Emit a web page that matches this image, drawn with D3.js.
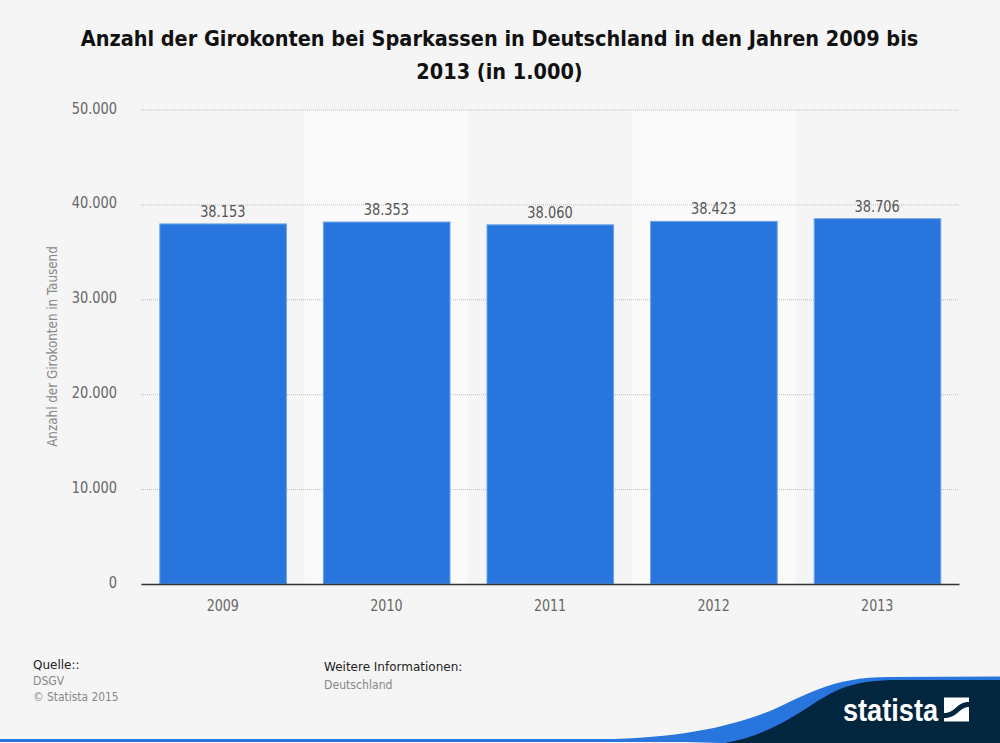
<!DOCTYPE html>
<html>
<head>
<meta charset="utf-8">
<script src="https://cdn.jsdelivr.net/npm/d3@7"></script>
<style>
  html, body { margin: 0; padding: 0; background: #f5f5f5; }
  svg { display: block; }
  text { font-family: "DejaVu Sans Condensed", "DejaVu Sans", sans-serif; }
</style>
</head>
<body>
<div id="chart"></div>
<script>
// Données
const annees = ["2009", "2010", "2011", "2012", "2013"];
const valeurs = [38153, 38353, 38060, 38423, 38706];
const graduations = [0, 10000, 20000, 30000, 40000, 50000];
const titre = ["Anzahl der Girokonten bei Sparkassen in Deutschland in den Jahren 2009 bis", "2013 (in 1.000)"];
const titreAxe = "Anzahl der Girokonten in Tausend";

const largeur = 1000;
const hauteur = 743;
const marge = {haut: 109.5, droite: 41, bas: 159, gauche: 141};

const svg = d3.select("#chart").append("svg")
    .attr("width", largeur)
    .attr("height", hauteur);

const fmt = d3.formatLocale({decimal: ",", thousands: ".", grouping: [3], currency: ["", "€"]}).format(",d");

// Resserre un texte déjà placé : le texte de la référence est étroit et haut
function resserrer(selection, k) {
    selection
        .attr("textLength", function() { return this.getComputedTextLength() * k; })
        .attr("lengthAdjust", "spacingAndGlyphs");
}

const x = d3.scaleBand()
    .domain(annees)
    .range([marge.gauche, largeur - marge.droite])
    .paddingInner(0.22)
    .paddingOuter(0.11);

const y = d3.scaleLinear()
    .domain([0, 50000])
    .range([hauteur - marge.bas, marge.haut]);

// Bandes claires une année sur deux
svg.append("g")
    .selectAll("rect")
    .data(annees.filter((d, i) => i % 2 == 1))
    .enter()
    .append("rect")
    .attr("x", d => x(d) - x.step() * 0.11)
    .attr("y", marge.haut)
    .attr("width", x.step())
    .attr("height", hauteur - marge.bas - marge.haut)
    .attr("fill", "#fafafa");

// Titre
svg.append("g")
    .selectAll("text")
    .data(titre)
    .enter()
    .append("text")
    .attr("x", 499.5)
    .attr("y", (d, i) => 46 + i * 33)
    .attr("text-anchor", "middle")
    .attr("font-size", 22)
    .attr("font-weight", "bold")
    .attr("fill", "#111")
    .text(d => d)
    .call(resserrer, 0.976);

// Axe vertical
const axeY = d3.axisLeft(y)
    .tickValues(graduations)
    .tickFormat(fmt)
    .tickSize(-(largeur - marge.gauche - marge.droite))
    .tickPadding(24);

const gY = svg.append("g")
    .attr("transform", `translate(${marge.gauche}, 0)`)
    .call(axeY);
gY.select(".domain").remove();
gY.selectAll(".tick line")
    .attr("stroke", "#bdbdbd")
    .attr("stroke-dasharray", "1,1");
gY.selectAll(".tick text")
    .attr("font-size", 16)
    .attr("dy", "0.22em")
    .attr("fill", "#666")
    .call(resserrer, 0.9);

// Barres
svg.append("g")
    .selectAll("rect")
    .data(valeurs)
    .enter()
    .append("rect")
    .attr("x", (d, i) => x(annees[i]) + 0.8)
    .attr("y", d => y(d) + 2)
    .attr("width", x.bandwidth() - 1)
    .attr("height", d => y(0) - y(d) - 2)
    .attr("fill", "#2876dd")
    .attr("stroke", "#6ea3e8")
    .attr("stroke-width", 1);

// Valeurs au-dessus des barres
svg.append("g")
    .selectAll("text")
    .data(valeurs)
    .enter()
    .append("text")
    .attr("x", (d, i) => x(annees[i]) + x.bandwidth() / 2)
    .attr("y", d => y(d) - 5)
    .attr("text-anchor", "middle")
    .attr("font-size", 16)
    .attr("fill", "#555")
    .text(d => fmt(d))
    .call(resserrer, 0.9);

// Axe horizontal
const axeX = d3.axisBottom(x).tickSize(0).tickPadding(16);
const gX = svg.append("g")
    .attr("transform", `translate(0, ${y(0)})`)
    .call(axeX);
gX.select(".domain")
    .attr("stroke", "#333")
    .attr("stroke-width", 1.5);
gX.selectAll(".tick text")
    .attr("font-size", 16)
    .attr("fill", "#666")
    .call(resserrer, 0.88);

// Titre de l'axe
svg.append("text")
    .attr("transform", "translate(57, 346.5) rotate(-90)")
    .attr("text-anchor", "middle")
    .attr("font-size", 14)
    .attr("fill", "#888")
    .text(titreAxe)
    .call(resserrer, 0.95);

// Pied de page
const pied = svg.append("g");
pied.append("text").attr("x", 33).attr("y", 669).attr("font-size", 12).attr("fill", "#222").style("font-family", "DejaVu Sans").text("Quelle::");
pied.append("text").attr("x", 33).attr("y", 685).attr("font-size", 12).attr("fill", "#888").style("font-family", "DejaVu Sans").text("DSGV").call(resserrer, 0.91);
pied.append("text").attr("x", 33).attr("y", 701).attr("font-size", 12).attr("fill", "#888").style("font-family", "DejaVu Sans").text("© Statista 2015").call(resserrer, 0.89);
pied.append("text").attr("x", 324).attr("y", 671).attr("font-size", 12).attr("fill", "#222").style("font-family", "DejaVu Sans").text("Weitere Informationen:");
pied.append("text").attr("x", 324).attr("y", 689).attr("font-size", 12).attr("fill", "#888").style("font-family", "DejaVu Sans").text("Deutschland").call(resserrer, 0.91);

// Bandeau statista
svg.append("rect").attr("x", 0).attr("y", 739).attr("width", 760).attr("height", 3).attr("fill", "#2876dd");
svg.append("path")
    .attr("d", "M600,739.5 C680,738 730,727 770,711 C805,696 830,677 890,677 L1000,676.5 L1000,743 L720,743 Z")
    .attr("fill", "#2876dd");
svg.append("path")
    .attr("d", "M725,743 C760,737 785,722 810,706 C835,690 850,680 900,680 L1000,680 L1000,743 Z")
    .attr("fill", "#03263f");
svg.append("text")
    .attr("x", 843)
    .attr("y", 720.5)
    .attr("font-size", 32)
    .attr("font-weight", "bold")
    .attr("fill", "#fff")
    .attr("textLength", 95)
    .attr("lengthAdjust", "spacingAndGlyphs")
    .style("font-family", "Liberation Sans Narrow, Liberation Sans")
    .text("statista");
svg.append("rect").attr("x", 944).attr("y", 697.5).attr("width", 25).attr("height", 24).attr("fill", "#fff");
svg.append("path")
    .attr("d", "M944,713 C956,713 956,702 969,702 L969,707 C959,707 958,718 944,718 Z")
    .attr("fill", "#03263f");
</script>
</body>
</html>
